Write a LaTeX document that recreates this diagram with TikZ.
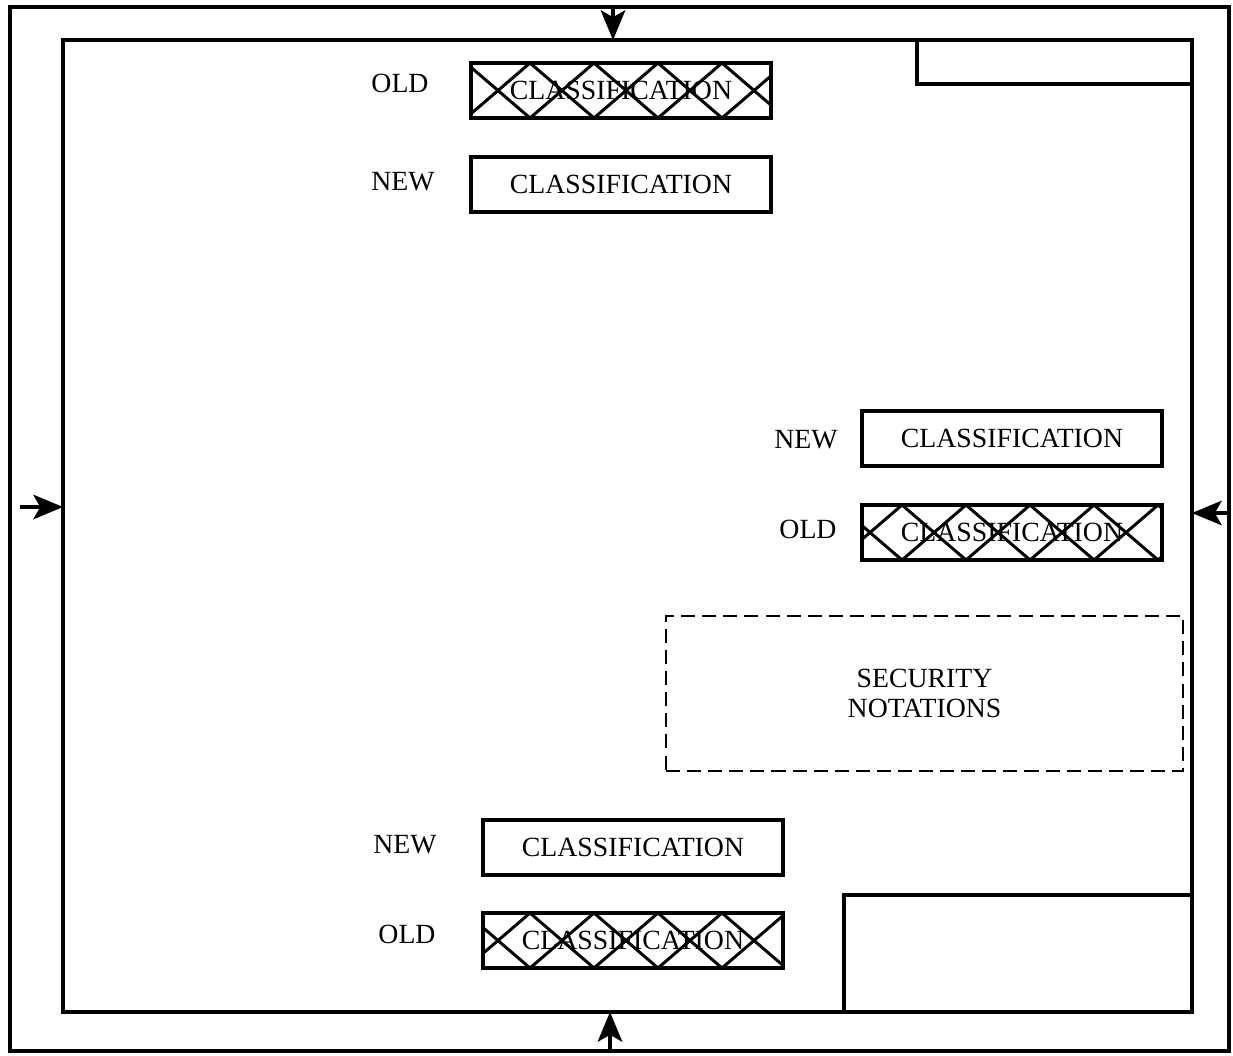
\documentclass[tikz,border=0pt]{standalone}
\usepackage{fontspec}
\setmainfont{Liberation Serif}
\usetikzlibrary{arrows.meta}
\newcommand\myxhatch[3]{%
  \begin{scope}
    \clip (#1,#2) rectangle (#1+300,#2+55);
    \foreach \k in {-1,...,5}{
      \pgfmathsetmacro\xa{#1+#3-32+\k*64}
      \draw[hatchline] (\xa,#2+55) -- (\xa+64,#2);
      \draw[hatchline] (\xa,#2) -- (\xa+64,#2+55);
    }
  \end{scope}}
\begin{document}
\begin{tikzpicture}[x=0.02cm,y=-0.02cm,
  txt/.style={font=\fontsize{15.8}{17}\selectfont, inner sep=0pt},
  frame/.style={draw, line width=2pt, inner sep=0pt, outer sep=0pt},
  cbox/.style={draw, line width=1.8pt, minimum width=6cm, minimum height=1.1cm, inner sep=0pt, outer sep=0pt, font=\fontsize{15.8}{17}\selectfont},
  hatchline/.style={line width=1.7pt},
  arr/.style={line width=1.8pt, -{Stealth[length=17pt,width=14pt,inset=4pt]}},
  secbox/.style={draw, line width=1.4pt, dash pattern=on 8pt off 4pt, minimum width=10.34cm, minimum height=3.1cm, inner sep=0pt, align=center, font=\fontsize{15.8}{17}\selectfont}]
\useasboundingbox (0,0) rectangle (1233,1055);
% frames
\node[frame, minimum width=24.38cm, minimum height=20.88cm] (outer) at (619.5,529) {};
\node[frame, minimum width=22.58cm, minimum height=19.44cm] (inner) at (627.5,526) {};
\node[frame, minimum width=5.5cm, minimum height=0.88cm, anchor=north east] (trbox) at (inner.north east) {};
\node[frame, minimum width=6.96cm, minimum height=2.34cm, anchor=south east] (brbox) at (inner.south east) {};
% arrows
\coordinate (ta) at (613,7);
\coordinate (ba) at (610,1051);
\coordinate (la) at (20,507);
\coordinate (ra) at (1229,513);
\draw[arr] (ta) -- (ta |- inner.north);
\draw[arr] (ba) -- (ba |- inner.south);
\draw[arr] (la) -- (la -| inner.west);
\draw[arr] (ra) -- (ra -| inner.east);
% top group
\node[txt] (oldAl) at (400,83) {OLD};
\node[cbox] (oldA) at (621,90.5) {CLASSIFICATION};
\myxhatch{471}{63}{27}
\node[txt] (newAl) at (403,182) {NEW};
\node[cbox] (newA) at (621,184.5) {CLASSIFICATION};
% right group
\node[txt] (newBl) at (806,440) {NEW};
\node[cbox] (newB) at (1012,438.5) {CLASSIFICATION};
\node[txt] (oldBl) at (808,529) {OLD};
\node[cbox] (oldB) at (1012,532.5) {CLASSIFICATION};
\myxhatch{862}{505}{8}
% security notations
\node[secbox] (sec) at (924.5,693.5) {SECURITY\\NOTATIONS};
% bottom group
\node[txt] (newCl) at (405,845) {NEW};
\node[cbox] (newC) at (633,847.5) {CLASSIFICATION};
\node[txt] (oldCl) at (407,934) {OLD};
\node[cbox] (oldC) at (633,940.5) {CLASSIFICATION};
\myxhatch{483}{913}{15}
\end{tikzpicture}
\end{document}
